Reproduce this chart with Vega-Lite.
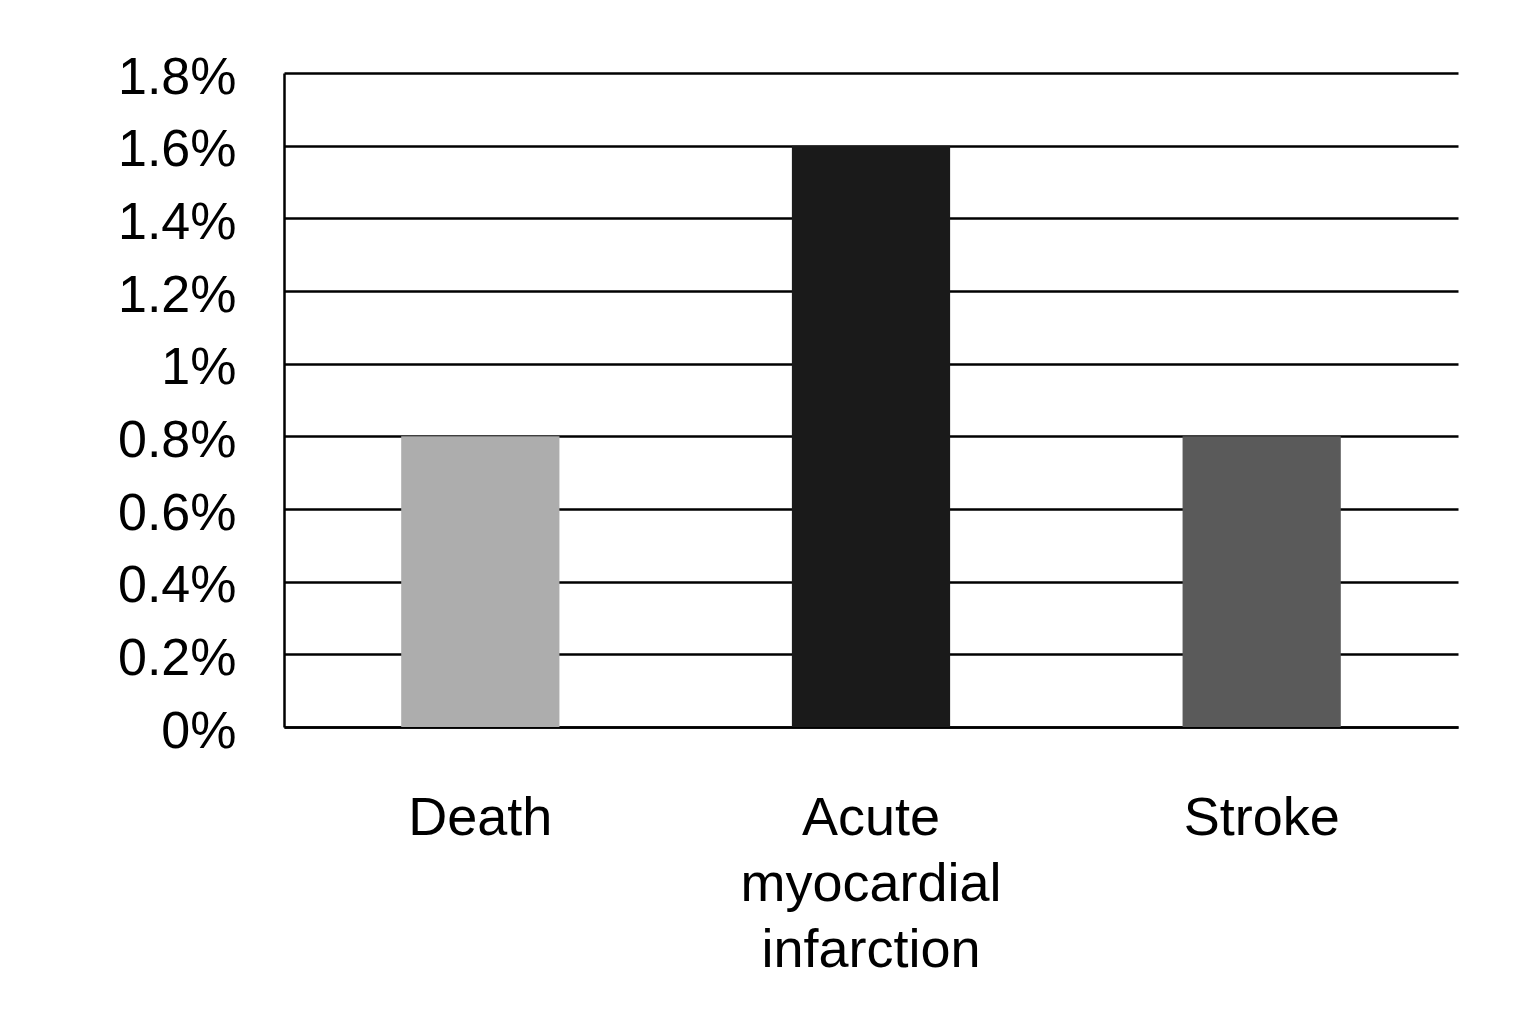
{
  "$schema": "https://vega.github.io/schema/vega-lite/v6.json",
  "autosize": "none",
  "width": 1174,
  "height": 654,
  "padding": {"left": 284, "top": 73, "right": 82, "bottom": 294},
  "background": "white",
  "config": {
    "view": {"stroke": null},
    "font": "Liberation Sans"
  },
  "data": {
    "values": [
      {"outcome": "Death", "rate": 0.008},
      {"outcome": "Acute myocardial infarction", "rate": 0.016},
      {"outcome": "Stroke", "rate": 0.008}
    ]
  },
  "mark": {"type": "bar"},
  "encoding": {
    "x": {
      "field": "outcome",
      "type": "nominal",
      "sort": null,
      "scale": {"paddingInner": 0.595, "paddingOuter": 0.3},
      "axis": {
        "title": null,
        "labelAngle": 0,
        "labelFontSize": 54,
        "labelColor": "black",
        "labelExpr": "split(datum.label, ' ')",
        "labelLineHeight": 66,
        "labelPadding": 64,
        "labelBaseline": "top",
        "labelLimit": 0,
        "ticks": false,
        "domainColor": "black",
        "domainWidth": 2.5,
        "grid": false
      }
    },
    "y": {
      "field": "rate",
      "type": "quantitative",
      "scale": {"domain": [0, 0.018], "nice": false},
      "axis": {
        "title": null,
        "values": [0, 0.002, 0.004, 0.006, 0.008, 0.01, 0.012, 0.014, 0.016, 0.018],
        "format": "~%",
        "labelFontSize": 52,
        "labelColor": "black",
        "labelPadding": 48,
        "labelOffset": 4,
        "labelLimit": 0,
        "ticks": false,
        "domainColor": "black",
        "domainWidth": 2.5,
        "grid": true,
        "gridColor": "black",
        "gridWidth": 2.5,
        "gridOpacity": 1
      }
    },
    "color": {
      "field": "outcome",
      "type": "nominal",
      "scale": {
        "domain": ["Death", "Acute myocardial infarction", "Stroke"],
        "range": ["#adadad", "#1a1a1a", "#5a5a5a"]
      },
      "legend": null
    }
  }
}
